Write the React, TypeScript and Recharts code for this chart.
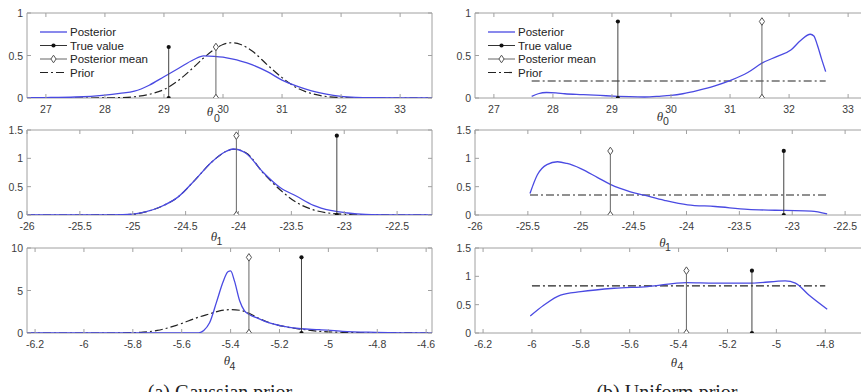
import React from "react";
import { ComposedChart, Line, XAxis, YAxis, ReferenceArea } from "recharts";

const SANS = "'Liberation Sans', Arial, sans-serif";
const SERIF = "'Liberation Serif', 'Times New Roman', serif";
const BLUE = "#4a4ae2";
const BOX = "#a0a0a0";
const INK = "#3c3c3c";
const DASHDOT = "8 3 2 3";

const PLOT_W = 405;
const PLOT_H = 85;
const Y_AXIS_W = 30;
const PAD_TOP = 5;
const X_AXIS_H = 20;

// tick labels
const ticksT0 = [27, 28, 29, 30, 31, 32, 33];
const ticksT1 = [-26, -25.5, -25, -24.5, -24, -23.5, -23, -22.5];
const ticksT4 = [-6.2, -6, -5.8, -5.6, -5.4, -5.2, -5, -4.8, -4.6];
const yTicksUnit = [0, 0.5, 1];
const yTicksOneHalf = [0, 0.5, 1, 1.5];
const yTicksTen = [0, 5, 10];

// theta_0, Gaussian prior
const gaussT0X = [26.68, 27, 27.5, 28, 28.25, 28.5, 28.75, 29, 29.25, 29.5, 29.67, 29.85, 30, 30.15, 30.3, 30.5, 30.75, 31, 31.25, 31.5, 31.75, 32, 32.25, 32.5, 33, 33.54];
const gaussT0Post = [0.003, 0.005, 0.012, 0.035, 0.055, 0.08, 0.15, 0.25, 0.35, 0.45, 0.495, 0.49, 0.48, 0.46, 0.435, 0.39, 0.31, 0.21, 0.14, 0.085, 0.045, 0.02, 0.008, 0.003, 0.001, 0];
const gaussT0Prior = [0, 0, 0, 0.001, 0.004, 0.015, 0.043, 0.1, 0.21, 0.36, 0.47, 0.57, 0.63, 0.65, 0.63, 0.55, 0.39, 0.24, 0.12, 0.052, 0.018, 0.005, 0.001, 0, 0, 0];

// theta_0, uniform prior
const unifT0X = [27.64, 27.75, 27.89, 28.05, 28.2, 28.5, 28.8, 29.1, 29.3, 29.55, 29.8, 30.0, 30.2, 30.46, 30.73, 31.02, 31.3, 31.54, 31.8, 32.03, 32.2, 32.36, 32.42, 32.48, 32.55, 32.62];
const unifT0Post = [0.02, 0.05, 0.065, 0.06, 0.05, 0.04, 0.03, 0.02, 0.015, 0.012, 0.02, 0.03, 0.05, 0.09, 0.14, 0.21, 0.3, 0.41, 0.49, 0.565, 0.68, 0.75, 0.73, 0.62, 0.46, 0.31];
const unifT0PriorX = [27.64, 32.62];
const unifT0Prior = [0.2, 0.2];

// theta_1, Gaussian prior
const gaussT1X = [-26, -25.5, -25.2, -25.0, -24.89, -24.73, -24.57, -24.41, -24.25, -24.12, -24.05, -23.93, -23.77, -23.61, -23.45, -23.29, -23.13, -22.97, -22.8, -22.5, -22.17];
const gaussT1Post = [0, 0, 0.002, 0.015, 0.05, 0.15, 0.32, 0.62, 0.94, 1.12, 1.165, 1.09, 0.76, 0.49, 0.33, 0.17, 0.08, 0.035, 0.01, 0.002, 0];
const gaussT1Prior = [0, 0, 0.002, 0.015, 0.05, 0.15, 0.32, 0.62, 0.94, 1.12, 1.16, 1.1, 0.75, 0.45, 0.22, 0.09, 0.03, 0.01, 0.002, 0, 0];

// theta_1, uniform prior
const unifT1X = [-25.48, -25.41, -25.32, -25.22, -25.13, -25.0, -24.84, -24.72, -24.53, -24.4, -24.21, -23.99, -23.73, -23.42, -23.07, -22.82, -22.67];
const unifT1Post = [0.38, 0.71, 0.89, 0.94, 0.91, 0.82, 0.66, 0.54, 0.41, 0.35, 0.26, 0.18, 0.15, 0.1, 0.08, 0.07, 0.02];
const unifT1PriorX = [-25.48, -22.67];
const unifT1Prior = [0.353, 0.353];

// theta_4, Gaussian prior
const gaussT4X = [-6.233, -5.9, -5.7, -5.6, -5.55, -5.53, -5.51, -5.486, -5.458, -5.431, -5.411, -5.4, -5.384, -5.363, -5.343, -5.322, -5.29, -5.254, -5.187, -5.112, -5.037, -4.942, -4.805, -4.7, -4.576];
const gaussT4Post = [0, 0, 0, 0, 0, 0.02, 0.3, 1.2, 3.6, 6.0, 7.2, 7.3, 6.1, 3.8, 2.6, 2.15, 1.75, 1.3, 0.8, 0.5, 0.4, 0.2, 0.08, 0.02, 0];
const gaussT4PriorX = [-6.233, -5.894, -5.8, -5.758, -5.7, -5.622, -5.527, -5.486, -5.445, -5.4, -5.363, -5.322, -5.29, -5.254, -5.187, -5.112, -5.037, -4.942, -4.8, -4.576];
const gaussT4Prior = [0, 0, 0.04, 0.1, 0.3, 0.9, 1.9, 2.25, 2.6, 2.75, 2.68, 2.3, 1.8, 1.35, 0.8, 0.45, 0.2, 0.08, 0.02, 0];

// theta_4, uniform prior
const unifT4X = [-6.007, -5.952, -5.883, -5.8, -5.664, -5.526, -5.368, -5.252, -5.1, -4.964, -4.922, -4.867, -4.792];
const unifT4Post = [0.3, 0.49, 0.67, 0.73, 0.79, 0.82, 0.89, 0.88, 0.88, 0.92, 0.88, 0.67, 0.42];
const unifT4PriorX = [-6.0, -4.8];
const unifT4Prior = [0.833, 0.833];

// stems: true value / posterior mean (theta_0, theta_1, theta_4)
const gaussTrue = [29.08, -23.07, -5.11];
const gaussMean = [29.88, -24.02, -5.325];
const gaussStemTop = [0.6, 1.4, 8.9];
const unifTrue = [29.1, -23.08, -5.1];
const unifMean = [31.54, -24.72, -5.368];
const unifStemTop = [0.9, 1.13, 1.1];

const legendLabels = ["Posterior", "True value", "Posterior mean", "Prior"];

type Pt = { x: number; y: number };
const zip = (xs: number[], ys: number[]): Pt[] => xs.map((x, i) => ({ x, y: ys[i] }));
const fmt = (v: number) => String(Math.round(v * 100) / 100);

const starDot = (p: any) => <circle key={`s${p.index}`} cx={p.cx} cy={p.cy} r={2.1} fill="#111" />;
const diamondDot = (p: any) => (
  <path key={`d${p.index}`} d={`M${p.cx},${p.cy - 3.8}L${p.cx + 2.6},${p.cy}L${p.cx},${p.cy + 3.8}L${p.cx - 2.6},${p.cy}Z`} fill="#fff" stroke="#555" strokeWidth={1} />
);

function XTick(p: any) {
  const { x, y, payload } = p;
  return (
    <g>
      <line x1={x} x2={x} y1={y} y2={y - 4} stroke={BOX} />
      <line x1={x} x2={x} y1={y - PLOT_H} y2={y - PLOT_H + 4} stroke={BOX} />
      <text x={x} y={y + 11} textAnchor="middle" dominantBaseline="central" fontSize={10.5} fontFamily={SANS} fill={INK}>{fmt(payload.value)}</text>
    </g>
  );
}

function YTick(p: any) {
  const { x, y, payload } = p;
  return (
    <g>
      <line x1={x} x2={x + 4} y1={y} y2={y} stroke={BOX} />
      <line x1={x + PLOT_W} x2={x + PLOT_W - 4} y1={y} y2={y} stroke={BOX} />
      <text x={x - 4} y={y} textAnchor="end" dominantBaseline="central" fontSize={10.5} fontFamily={SANS} fill={INK}>{fmt(payload.value)}</text>
    </g>
  );
}

function Panel({ left, top, domain, xTicks, yTicks, post, prior, priorType, truth, mean, stemTop }: any) {
  const yMax = yTicks[yTicks.length - 1];
  return (
    <div style={{ position: "absolute", left: left - Y_AXIS_W, top: top - PAD_TOP }}>
      <ComposedChart width={Y_AXIS_W + PLOT_W + 5} height={PAD_TOP + PLOT_H + X_AXIS_H} margin={{ top: PAD_TOP, right: 5, bottom: 0, left: 0 }}>
        <XAxis dataKey="x" type="number" domain={domain} ticks={xTicks} interval={0} allowDataOverflow tickSize={0} tickMargin={0} tickLine={false} axisLine={false} height={X_AXIS_H} tick={XTick} />
        <YAxis type="number" domain={[0, yMax]} ticks={yTicks} interval={0} allowDataOverflow tickSize={0} tickMargin={0} tickLine={false} axisLine={false} width={Y_AXIS_W} tick={YTick} />
        <ReferenceArea x1={domain[0]} x2={domain[1]} y1={0} y2={yMax} fill="none" stroke={BOX} strokeWidth={1} ifOverflow="visible" />
        <Line data={prior} dataKey="y" type={priorType} stroke="#222" strokeWidth={1.2} strokeDasharray={DASHDOT} dot={false} isAnimationActive={false} />
        <Line data={post} dataKey="y" type="monotone" stroke={BLUE} strokeWidth={1.3} dot={false} isAnimationActive={false} />
        <Line data={zip([truth, truth], [0, stemTop])} dataKey="y" type="linear" stroke="#444" strokeWidth={1} dot={starDot} isAnimationActive={false} />
        <Line data={zip([mean, mean], [0, stemTop])} dataKey="y" type="linear" stroke="#666" strokeWidth={1} dot={diamondDot} isAnimationActive={false} />
      </ComposedChart>
    </div>
  );
}

function LegendBlock({ x, y }: { x: number; y: number }) {
  const step = 13.5;
  return (
    <g>
      {legendLabels.map((label, i) => {
        const cy = y + i * step;
        const mx = x + 13.5;
        return (
          <g key={label}>
            {i === 0 && <line x1={x} x2={x + 27} y1={cy} y2={cy} stroke={BLUE} strokeWidth={1.3} />}
            {i === 1 && <><line x1={x} x2={x + 27} y1={cy} y2={cy} stroke="#333" /><circle cx={mx} cy={cy} r={2.1} fill="#111" /></>}
            {i === 2 && <><line x1={x} x2={x + 27} y1={cy} y2={cy} stroke="#666" /><path d={`M${mx},${cy - 3.8}L${mx + 2.6},${cy}L${mx},${cy + 3.8}L${mx - 2.6},${cy}Z`} fill="#fff" stroke="#555" /></>}
            {i === 3 && <line x1={x} x2={x + 27} y1={cy} y2={cy} stroke="#222" strokeWidth={1.2} strokeDasharray={DASHDOT} />}
            <text x={x + 30} y={cy} dominantBaseline="central" fontSize={11.5} fontFamily={SANS} fill="#222">{label}</text>
          </g>
        );
      })}
    </g>
  );
}

function Theta({ cx, cy, sx, sy, sub }: any) {
  return (
    <g>
      <text x={cx} y={cy} textAnchor="middle" dominantBaseline="central" fontSize={13} fontStyle="italic" fontFamily={SERIF} fill="#333">θ</text>
      <text x={sx} y={sy} textAnchor="middle" dominantBaseline="central" fontSize={10.5} fontFamily={SANS} fill="#333">{sub}</text>
    </g>
  );
}

export default function App() {
  const rows = [13, 130, 248];
  const cols = [27, 475];
  return (
    <div style={{ position: "absolute", left: 0, top: 0, width: 861, height: 392, overflow: "hidden", background: "#fff" }}>
      <Panel left={cols[0]} top={rows[0]} domain={[26.68, 33.54]} xTicks={ticksT0} yTicks={yTicksUnit}
        post={zip(gaussT0X, gaussT0Post)} prior={zip(gaussT0X, gaussT0Prior)} priorType="monotone"
        truth={gaussTrue[0]} mean={gaussMean[0]} stemTop={gaussStemTop[0]} />
      <Panel left={cols[1]} top={rows[0]} domain={[26.68, 33.54]} xTicks={ticksT0} yTicks={yTicksUnit}
        post={zip(unifT0X, unifT0Post)} prior={zip(unifT0PriorX, unifT0Prior)} priorType="linear"
        truth={unifTrue[0]} mean={unifMean[0]} stemTop={unifStemTop[0]} />
      <Panel left={cols[0]} top={rows[1]} domain={[-26, -22.17]} xTicks={ticksT1} yTicks={yTicksOneHalf}
        post={zip(gaussT1X, gaussT1Post)} prior={zip(gaussT1X, gaussT1Prior)} priorType="monotone"
        truth={gaussTrue[1]} mean={gaussMean[1]} stemTop={gaussStemTop[1]} />
      <Panel left={cols[1]} top={rows[1]} domain={[-26, -22.17]} xTicks={ticksT1} yTicks={yTicksOneHalf}
        post={zip(unifT1X, unifT1Post)} prior={zip(unifT1PriorX, unifT1Prior)} priorType="linear"
        truth={unifTrue[1]} mean={unifMean[1]} stemTop={unifStemTop[1]} />
      <Panel left={cols[0]} top={rows[2]} domain={[-6.233, -4.576]} xTicks={ticksT4} yTicks={yTicksTen}
        post={zip(gaussT4X, gaussT4Post)} prior={zip(gaussT4PriorX, gaussT4Prior)} priorType="monotone"
        truth={gaussTrue[2]} mean={gaussMean[2]} stemTop={gaussStemTop[2]} />
      <Panel left={cols[1]} top={rows[2]} domain={[-6.233, -4.576]} xTicks={ticksT4} yTicks={yTicksOneHalf}
        post={zip(unifT4X, unifT4Post)} prior={zip(unifT4PriorX, unifT4Prior)} priorType="linear"
        truth={unifTrue[2]} mean={unifMean[2]} stemTop={unifStemTop[2]} />
      <svg width={861} height={392} style={{ position: "absolute", left: 0, top: 0, pointerEvents: "none" }}>
        <LegendBlock x={40} y={32} />
        <LegendBlock x={488} y={32} />
        <Theta cx={210} cy={111} sx={217} sy={118} sub="0" />
        <Theta cx={660} cy={116} sx={666} sy={121} sub="0" />
        <Theta cx={214} cy={236} sx={219.5} sy={241} sub="1" />
        <Theta cx={662.5} cy={242} sx={668} sy={247} sub="1" />
        <Theta cx={227} cy={360} sx={232.5} sy={366} sub="4" />
        <Theta cx={674} cy={362} sx={680.5} sy={366} sub="4" />
        <text x={220} y={399} textAnchor="middle" fontSize={20} fontFamily={SERIF} fill="#222">(a) Gaussian prior</text>
        <text x={667} y={399} textAnchor="middle" fontSize={20} fontFamily={SERIF} fill="#222">(b) Uniform prior</text>
      </svg>
    </div>
  );
}
